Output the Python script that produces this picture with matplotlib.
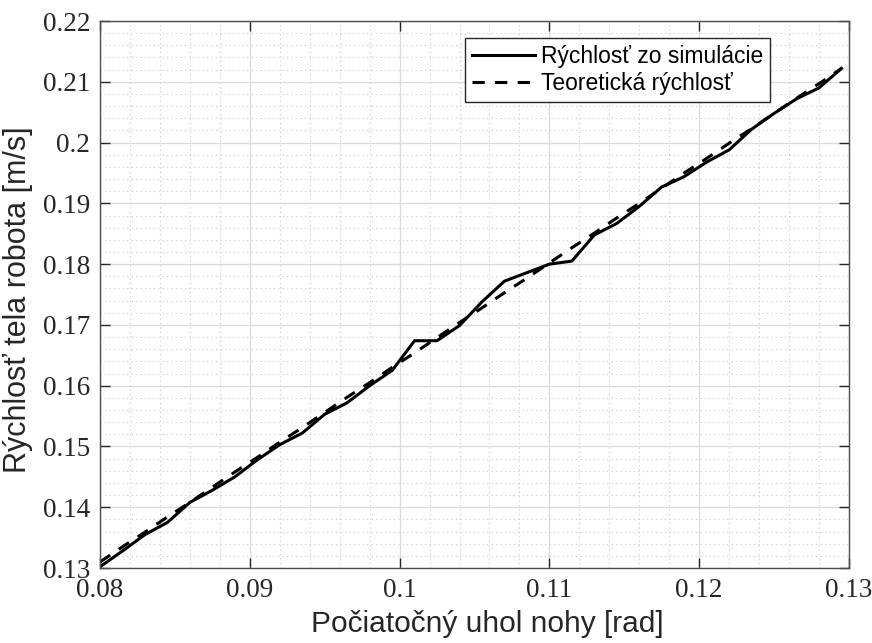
#%% Importing packages
import numpy as np
import matplotlib
matplotlib.use('Agg')
import matplotlib.pyplot as plt
from matplotlib.ticker import MultipleLocator

#%% Data
uhol = [0.0800, 0.0815, 0.0830, 0.0845, 0.0860, 0.0875, 0.0890, 0.0905, 0.0920,
        0.0935, 0.0950, 0.0965, 0.0980, 0.0995, 0.1010, 0.1025, 0.1040, 0.1055,
        0.1070, 0.1085, 0.1100, 0.1115, 0.1130, 0.1145, 0.1160, 0.1175, 0.1190,
        0.1205, 0.1220, 0.1235, 0.1250, 0.1265, 0.1280, 0.1295]

v_sim = [0.1302, 0.1328, 0.1355, 0.1375, 0.1408, 0.1428, 0.1450, 0.1478, 0.1503,
         0.1522, 0.1553, 0.1572, 0.1600, 0.1625, 0.1674, 0.1674, 0.1699, 0.1738,
         0.1772, 0.1786, 0.1800, 0.1805, 0.1848, 0.1867, 0.1895, 0.1927, 0.1944,
         0.1968, 0.1988, 0.2022, 0.2048, 0.2072, 0.2090, 0.2122]

v_teor = [0.1310, 0.1335, 0.1359, 0.1384, 0.1408, 0.1433, 0.1458, 0.1482, 0.1507,
          0.1531, 0.1556, 0.1581, 0.1605, 0.1630, 0.1654, 0.1679, 0.1704, 0.1728,
          0.1753, 0.1777, 0.1802, 0.1827, 0.1851, 0.1876, 0.1900, 0.1925, 0.1950,
          0.1974, 0.1999, 0.2023, 0.2048, 0.2073, 0.2097, 0.2122]

xlabel = 'Počiatočný uhol nohy [rad]'
ylabel = 'Rýchlosť tela robota [m/s]'
legend_labels = ['Rýchlosť zo simulácie', 'Teoretická rýchlosť']

#%% Plot
fig = plt.figure(figsize=(8.72, 6.43), dpi=100)
ax = fig.add_axes([0.1147, 0.1166, 0.8589, 0.8507])

ax.plot(uhol, v_sim, color='black', linewidth=2.2, label=legend_labels[0])
ax.plot(uhol, v_teor, color='black', linewidth=2.2, dashes=(4.0, 3.4),
        label=legend_labels[1])

ax.set_xlim(0.08, 0.13)
ax.set_ylim(0.13, 0.22)
ax.xaxis.set_major_locator(MultipleLocator(0.01))
ax.yaxis.set_major_locator(MultipleLocator(0.01))
ax.xaxis.set_minor_locator(MultipleLocator(0.002))
ax.yaxis.set_minor_locator(MultipleLocator(0.002))
ax.set_xticklabels([('%g' % t) for t in ax.get_xticks()])
ax.set_yticklabels([('%g' % t) for t in ax.get_yticks()])

ax.grid(which='major', color='#dcdcdc', linestyle='-', linewidth=1.0)
ax.grid(which='minor', color='#c8c8c8', linestyle=(0, (1, 3)), linewidth=0.8)
ax.set_axisbelow(True)

ax.tick_params(which='major', direction='in', length=7, width=1.0,
               top=True, right=True, colors='#262626', pad=7)
ax.tick_params(which='minor', length=0, top=True, right=True)
for lab in ax.get_xticklabels() + ax.get_yticklabels():
    lab.set_family('Liberation Serif')
    lab.set_fontsize(19.5)
for sp in ax.spines.values():
    sp.set_color('#4d4d4d')
    sp.set_linewidth(1.0)

ax.set_xlabel(xlabel, family='Liberation Sans', fontsize=21.5, color='#262626')
ax.set_ylabel(ylabel, family='Liberation Sans', fontsize=22, color='#262626')
ax.xaxis.set_label_coords(0.517, -0.076)
ax.yaxis.set_label_coords(-0.089, 0.49)

leg = ax.legend(loc='upper right', bbox_to_anchor=(0.895, 0.969),
                borderaxespad=0, fancybox=False, framealpha=1,
                edgecolor='#262626', handlelength=2.75, handletextpad=0.26,
                borderpad=0.3, labelspacing=0.2,
                prop={'family': 'Liberation Sans', 'size': 16.5})
leg.get_frame().set_linewidth(1.0)

fig.savefig('out.png', dpi=100)
